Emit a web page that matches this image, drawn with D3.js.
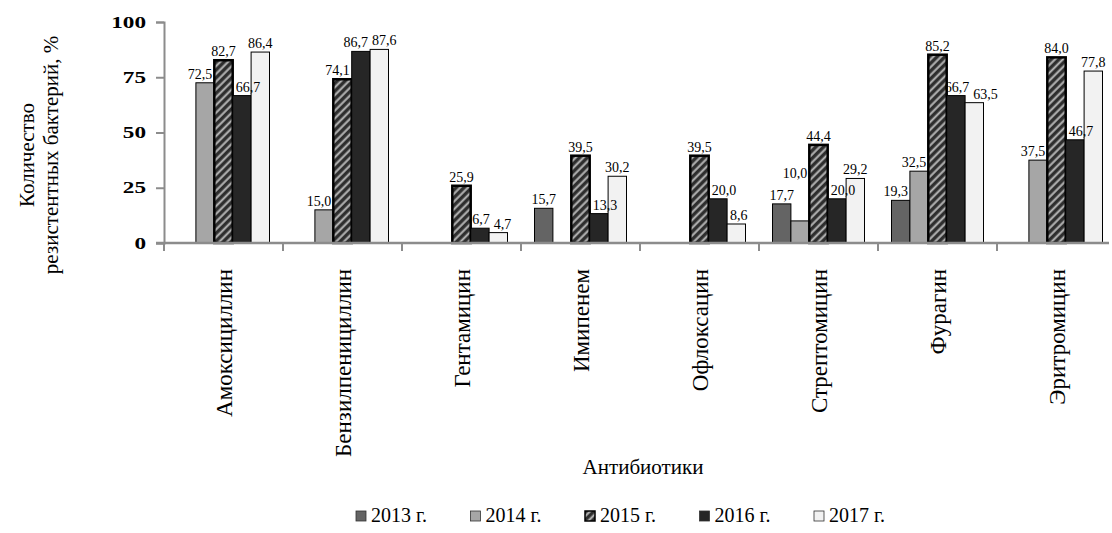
<!DOCTYPE html>
<html>
<head>
<meta charset="utf-8">
<script src="https://cdn.jsdelivr.net/npm/d3@7/dist/d3.min.js"></script>
<style>
  body { margin: 0; background: #fff; }
  text { font-family: "Liberation Serif", "Times New Roman", serif; fill: #000; }
</style>
</head>
<body>
<svg id="chart" width="1112" height="533"></svg>
<script>
// Antibiotic resistance by year, %
const antibiotics = ["Амоксициллин", "Бензилпенициллин", "Гентамицин", "Имипенем",
                     "Офлоксацин", "Стрептомицин", "Фурагин", "Эритромицин"];
const years = ["2013 г.", "2014 г.", "2015 г.", "2016 г.", "2017 г."];
const v2013 = [null, null, null, 15.7, null, 17.7, 19.3, null];
const v2014 = [72.5, 15.0, null, null, null, 10.0, 32.5, 37.5];
const v2015 = [82.7, 74.1, 25.9, 39.5, 39.5, 44.4, 85.2, 84.0];
const v2016 = [66.7, 86.7, 6.7, 13.3, 20.0, 20.0, 66.7, 46.7];
const v2017 = [86.4, 87.6, 4.7, 30.2, 8.6, 29.2, 63.5, 77.8];
const yTicks = [0, 25, 50, 75, 100];

const seriesValues = [v2013, v2014, v2015, v2016, v2017];
const fills = ["#646464", "#a6a6a6", "url(#hatch)", "#262626", "#f2f2f2"];
const lightSeries = 4; // index of the pale series, text stays readable over it

const svg = d3.select("#chart");

// diagonal hatch for the 2015 series
const defs = svg.append("defs");
const pat = defs.append("pattern")
  .attr("id", "hatch").attr("patternUnits", "userSpaceOnUse")
  .attr("width", 5.5).attr("height", 5.5)
  .attr("patternTransform", "rotate(45)");
pat.append("rect").attr("width", 5.5).attr("height", 5.5).attr("fill", "#2e2e2e");
pat.append("line").attr("x1", 1.5).attr("y1", 0).attr("x2", 1.5).attr("y2", 5.5)
  .attr("stroke", "#b8b8b8").attr("stroke-width", 2);

const plotLeft = 164, plotRight = 1116, plotTop = 22, plotBottom = 243;

const x = d3.scaleBand().domain(antibiotics).range([plotLeft, plotRight]).padding(0);
const bw = x.bandwidth();
const inner = d3.scaleBand().domain(years).range([13.5, bw - 13.5]).padding(0);
const y = d3.scaleLinear().domain([0, 100]).range([plotBottom, plotTop]);
const barW = inner.bandwidth();
const barX = (ci, si) => x(antibiotics[ci]) + inner(years[si]);
const barTop = v => v == null ? Infinity : y(v);

// y axis
const yAxis = svg.append("g")
  .attr("transform", `translate(${plotLeft},0)`)
  .call(d3.axisLeft(y).tickValues(yTicks).tickSize(8).tickPadding(0).tickFormat(d3.format("d")));
yAxis.select(".domain").attr("stroke", "#8c8c8c").attr("stroke-width", 2);
yAxis.selectAll(".tick line").attr("stroke", "#8c8c8c").attr("stroke-width", 2);
yAxis.selectAll(".tick text")
  .attr("font-size", 16).attr("font-weight", "bold")
  .attr("font-family", "'Liberation Serif', serif")
  .attr("fill", "#111")
  .attr("x", -18 / 1.45)
  .attr("transform", "scale(1.45,1)");

// bars
years.forEach((yr, si) => {
  const data = antibiotics.map((a, ci) => ({ a, ci, si, v: seriesValues[si][ci] }))
    .filter(d => d.v != null);
  svg.append("g").selectAll("rect").data(data).join("rect")
    .attr("x", d => barX(d.ci, d.si))
    .attr("y", d => y(d.v))
    .attr("width", barW)
    .attr("height", d => y(0) - y(d.v))
    .attr("fill", fills[si])
    .attr("stroke", "#000")
    .attr("stroke-width", si === 2 ? 2.5 : 1);
});

// value labels
const labelData = [];
years.forEach((yr, si) => antibiotics.forEach((a, ci) => {
  const v = seriesValues[si][ci];
  if (v != null) labelData.push({ a, ci, si, v });
}));
const labels = svg.append("g").selectAll("text").data(labelData).join("text")
  .attr("text-anchor", "middle")
  .attr("font-size", 14)
  .attr("x", d => barX(d.ci, d.si) + barW / 2)
  .attr("y", d => y(d.v) - 4)
  .text(d => d.v.toFixed(1).replace(".", ","));

// keep each label clear of taller neighbouring bars
labels.each(function (d) {
  const w = this.getComputedTextLength();
  const leftTop = d.si > 0 ? barTop(seriesValues[d.si - 1][d.ci]) : Infinity;
  const rightTop = d.si < years.length - 1 ? barTop(seriesValues[d.si + 1][d.ci]) : Infinity;
  const x0 = barX(d.ci, d.si);
  let base = y(d.v) - 4;
  const bounds = b => [
    leftTop < b ? x0 + 3 + w / 2 : -Infinity,
    rightTop < b ? x0 + barW - 2 - w / 2 : Infinity
  ];
  let [lo, hi] = bounds(base);
  if (lo > hi && d.si + 1 !== lightSeries) {
    base = leftTop - 26;
    [lo, hi] = bounds(base);
  }
  let cx = x0 + barW / 2;
  cx = Math.max(Math.min(cx, hi), lo);
  d.cx = cx; d.base = base; d.w = w;
});

// spread labels of the same group that still collide
antibiotics.forEach((a, ci) => {
  const g = labelData.filter(d => d.ci === ci).sort((p, q) => p.cx - q.cx);
  for (let i = 1; i < g.length; i++) {
    const p = g[i - 1], c = g[i];
    if (Math.abs(c.base - p.base) < 12) {
      const o = (p.cx + p.w / 2 + 4) - (c.cx - c.w / 2);
      if (o > 0) { p.cx -= o / 2; c.cx += o / 2; }
    }
  }
});
labels.attr("x", d => d.cx).attr("y", d => d.base);

// x axis: baseline and category boundary ticks
const xAxis = svg.append("g").attr("transform", `translate(0,${plotBottom})`);
xAxis.append("line")
  .attr("x1", plotLeft - 8).attr("x2", 1109)
  .attr("stroke", "#8c8c8c").attr("stroke-width", 2.5);
xAxis.selectAll("line.tk").data(antibiotics).join("line")
  .attr("class", "tk")
  .attr("x1", d => x(d)).attr("x2", d => x(d))
  .attr("y1", 0).attr("y2", 8)
  .attr("stroke", "#8c8c8c").attr("stroke-width", 2);
xAxis.selectAll("text").data(antibiotics).join("text")
  .attr("transform", d => `translate(${x(d) + bw / 2},26) rotate(-90)`)
  .attr("text-anchor", "end")
  .attr("dy", "0.35em")
  .attr("font-size", 23)
  .text(d => d);

// axis titles
svg.append("text")
  .attr("transform", "translate(27,155) rotate(-90)")
  .attr("text-anchor", "middle").attr("dy", "0.35em")
  .attr("font-size", 21).text("Количество");
svg.append("text")
  .attr("transform", "translate(51,155) rotate(-90)")
  .attr("text-anchor", "middle").attr("dy", "0.35em")
  .attr("font-size", 21).text("резистентных бактерий, %");
svg.append("text")
  .attr("x", 643).attr("y", 474)
  .attr("text-anchor", "middle")
  .attr("font-size", 21).text("Антибиотики");

// legend
const legend = svg.append("g").attr("transform", "translate(356,522)");
const item = legend.selectAll("g").data(years).join("g")
  .attr("transform", (d, i) => `translate(${i * 114.5},0)`);
item.append("rect")
  .attr("x", 0).attr("y", -11).attr("width", 10).attr("height", 10)
  .attr("fill", (d, i) => fills[i])
  .attr("stroke", (d, i) => i === 2 ? "#000" : "#333")
  .attr("stroke-width", (d, i) => i === 2 ? 1.5 : 0.8);
item.append("text")
  .attr("x", 15).attr("y", 0)
  .attr("font-size", 20)
  .text(d => d);
</script>
</body>
</html>
